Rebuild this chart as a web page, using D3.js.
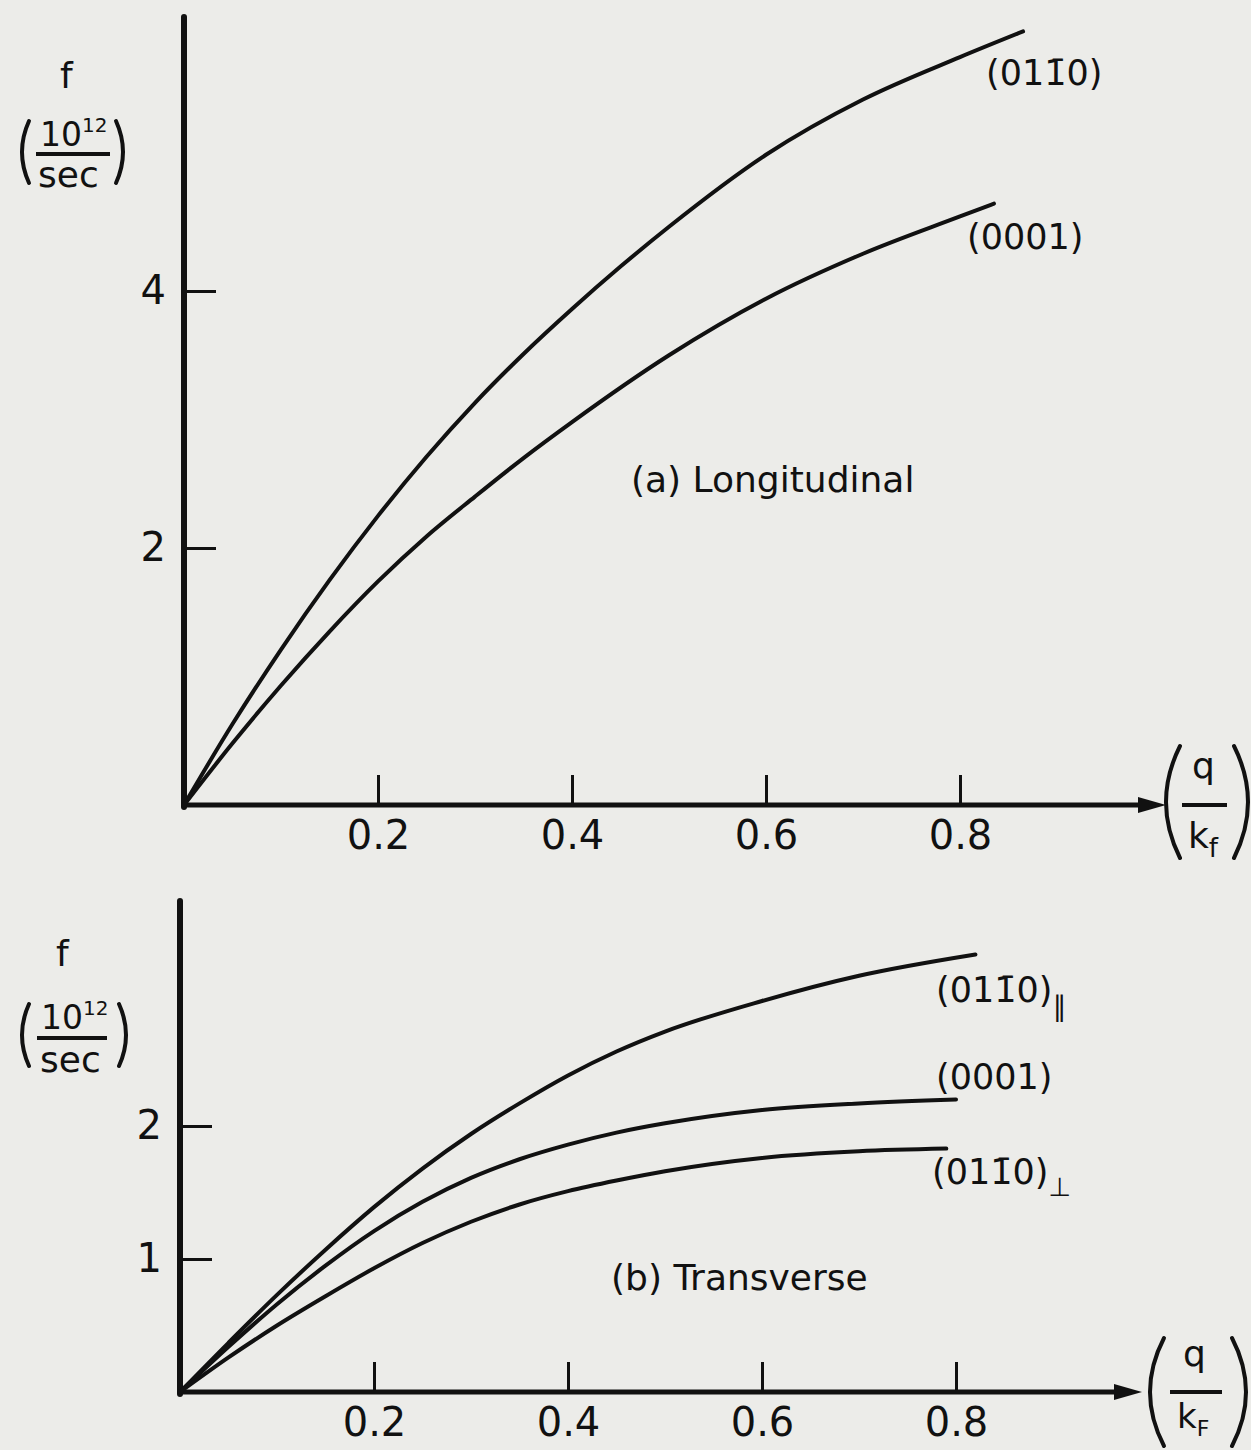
<!DOCTYPE html>
<html>
<head>
<meta charset="utf-8">
<script src="https://cdn.jsdelivr.net/npm/d3@7"></script>
<style>
  html, body { margin: 0; padding: 0; background: #ecece9; }
  svg text { font-family: "DejaVu Sans", sans-serif; fill: #111; }
</style>
</head>
<body>
<div id="chart"></div>
<script>
// --------------------
// DATA
// --------------------
// (a) Longitudinal
const qLong0110 = [0, 0.05, 0.1, 0.15, 0.2, 0.25, 0.3, 0.35, 0.4, 0.45, 0.5, 0.6, 0.7, 0.8, 0.865];
const fLong0110 = [0, 0.63, 1.21, 1.75, 2.25, 2.71, 3.13, 3.51, 3.86, 4.19, 4.50, 5.06, 5.49, 5.82, 6.02];
const qLong0001 = [0, 0.05, 0.1, 0.15, 0.2, 0.25, 0.3, 0.35, 0.4, 0.5, 0.6, 0.7, 0.8, 0.835];
const fLong0001 = [0, 0.48, 0.93, 1.35, 1.74, 2.09, 2.40, 2.70, 2.98, 3.50, 3.94, 4.29, 4.58, 4.68];

// (b) Transverse
const qTransPar = [0, 0.05, 0.1, 0.15, 0.2, 0.25, 0.3, 0.35, 0.4, 0.45, 0.5, 0.6, 0.7, 0.82];
const fTransPar = [0, 0.37, 0.73, 1.07, 1.39, 1.68, 1.94, 2.17, 2.38, 2.56, 2.71, 2.94, 3.13, 3.29];
const qTrans0001 = [0, 0.05, 0.1, 0.15, 0.2, 0.25, 0.3, 0.35, 0.4, 0.45, 0.5, 0.6, 0.7, 0.8];
const fTrans0001 = [0, 0.34, 0.66, 0.95, 1.21, 1.43, 1.61, 1.75, 1.86, 1.95, 2.02, 2.12, 2.17, 2.20];
const qTransPerp = [0, 0.05, 0.1, 0.15, 0.2, 0.25, 0.3, 0.35, 0.4, 0.45, 0.5, 0.6, 0.7, 0.79];
const fTransPerp = [0, 0.26, 0.50, 0.72, 0.93, 1.12, 1.28, 1.41, 1.51, 1.59, 1.66, 1.76, 1.81, 1.83];

const xTicks = [0.2, 0.4, 0.6, 0.8];
const yTicksLong = [2, 4];
const yTicksTrans = [1, 2];


// --------------------
// SETUP
// --------------------
const width = 1251;
const height = 1450;
const ink = "#111";

const svg = d3.select("#chart")
  .append("svg")
  .attr("width", width)
  .attr("height", height);

svg.append("rect")
  .attr("width", width)
  .attr("height", height)
  .attr("fill", "#ecece9");

const xTop = d3.scaleLinear().domain([0, 1]).range([184, 1154]);
const yTop = d3.scaleLinear().domain([0, 6]).range([805, 34]);

const xBot = d3.scaleLinear().domain([0, 1]).range([180, 1150]);
const yBot = d3.scaleLinear().domain([0, 3]).range([1392, 993]);


// --------------------
// HELPERS
// --------------------
function curve(x, y, qs, fs) {
  svg.append("path")
    .datum(d3.zip(qs, fs))
    .attr("fill", "none")
    .attr("stroke", ink)
    .attr("stroke-width", 4)
    .attr("stroke-linecap", "round")
    .attr("d", d3.line()
      .x(d => x(d[0]))
      .y(d => y(d[1]))
      .curve(d3.curveMonotoneX)
    );
}

function paren(xMid, xEnd, y0, y1) {
  const ctrl = 2 * xMid - xEnd;
  svg.append("path")
    .attr("d", `M${xEnd},${y0} Q${ctrl},${(y0 + y1) / 2} ${xEnd},${y1}`)
    .attr("fill", "none")
    .attr("stroke", ink)
    .attr("stroke-width", 4)
    .attr("stroke-linecap", "round");
}

function hline(x0, x1, y, w) {
  svg.append("line")
    .attr("x1", x0).attr("x2", x1)
    .attr("y1", y).attr("y2", y)
    .attr("stroke", ink)
    .attr("stroke-width", w);
}

function label(x, y, size, parts) {
  const t = svg.append("text")
    .attr("x", x)
    .attr("y", y)
    .style("font-size", size + "px");
  parts.forEach(p => {
    const s = t.append("tspan").text(p.t);
    if (p.dy) s.attr("dy", p.dy);
    if (p.size) s.style("font-size", p.size + "px");
  });
  return t;
}

function axes(x, y, yTicks, yAxisTop, arrowTip) {
  // x ticks point up into the plot
  svg.append("g")
    .attr("transform", `translate(0,${y(0)})`)
    .attr("color", ink)
    .call(d3.axisBottom(x).tickValues(xTicks).tickSize(-30).tickPadding(16))
    .call(g => g.select(".domain").remove())
    .call(g => g.selectAll("line").attr("stroke-width", 3))
    .call(g => g.selectAll("text").style("font-size", "40px"));

  svg.append("g")
    .attr("transform", `translate(${x(0)},0)`)
    .attr("color", ink)
    .call(d3.axisLeft(y).tickValues(yTicks).tickFormat(d3.format("d")).tickSize(-32).tickPadding(18))
    .call(g => g.select(".domain").remove())
    .call(g => g.selectAll("line").attr("stroke-width", 3))
    .call(g => g.selectAll("text").style("font-size", "40px"));

  // main axis lines
  svg.append("line")
    .attr("x1", x(0)).attr("x2", x(0))
    .attr("y1", yAxisTop).attr("y2", y(0) + 2)
    .attr("stroke", ink)
    .attr("stroke-width", 6)
    .attr("stroke-linecap", "round");

  hline(x(0) - 2, arrowTip - 20, y(0), 5);

  svg.append("path")
    .attr("d", `M${arrowTip},${y(0)} L${arrowTip - 28},${y(0) - 8} L${arrowTip - 28},${y(0) + 8} Z`)
    .attr("fill", ink);
}


// --------------------
// (a) LONGITUDINAL
// --------------------
axes(xTop, yTop, yTicksLong, 17, 1166);

curve(xTop, yTop, qLong0110, fLong0110);
curve(xTop, yTop, qLong0001, fLong0001);

// y title
label(60, 88, 36, [{ t: "f" }]);
label(40, 146, 33, [{ t: "10" }, { t: "12", dy: -14, size: 20 }]);
hline(36, 110, 154, 4);
label(38, 187, 36, [{ t: "sec" }]);
paren(22, 29, 121, 183);
paren(123, 116, 121, 183);

// x title
label(1192, 778, 36, [{ t: "q" }]);
hline(1182, 1227, 805, 4);
label(1188, 848, 36, [{ t: "k" }, { t: "f", dy: 9, size: 26 }]);
paren(1166, 1180, 746, 858);
paren(1248, 1234, 746, 858);

// curve labels
label(986, 85, 35, [{ t: "(01" }, { t: "1\u0304" }, { t: "0)" }]);
label(967, 249, 35, [{ t: "(0001)" }]);
label(631, 492, 36, [{ t: "(a) Longitudinal" }]);


// --------------------
// (b) TRANSVERSE
// --------------------
axes(xBot, yBot, yTicksTrans, 901, 1142);

curve(xBot, yBot, qTransPar, fTransPar);
curve(xBot, yBot, qTrans0001, fTrans0001);
curve(xBot, yBot, qTransPerp, fTransPerp);

// y title
label(56, 966, 36, [{ t: "f" }]);
label(41, 1029, 33, [{ t: "10" }, { t: "12", dy: -14, size: 20 }]);
hline(37, 107, 1038, 4);
label(40, 1072, 36, [{ t: "sec" }]);
paren(22, 29, 1004, 1066);
paren(126, 119, 1004, 1066);

// x title
label(1183, 1366, 36, [{ t: "q" }]);
hline(1170, 1222, 1392, 4);
label(1177, 1428, 34, [{ t: "k" }, { t: "F", dy: 8, size: 22 }]);
paren(1150, 1164, 1338, 1446);
paren(1246, 1232, 1338, 1446);

// curve labels
label(936, 1002, 35, [{ t: "(01" }, { t: "1\u0304" }, { t: "0)" }, { t: "\u2225", dy: 14, size: 28 }]);
label(936, 1089, 35, [{ t: "(0001)" }]);
label(932, 1184, 35, [{ t: "(01" }, { t: "1\u0304" }, { t: "0)" }, { t: "\u22A5", dy: 12, size: 26 }]);
label(611, 1290, 36, [{ t: "(b) Transverse" }]);
</script>
</body>
</html>
